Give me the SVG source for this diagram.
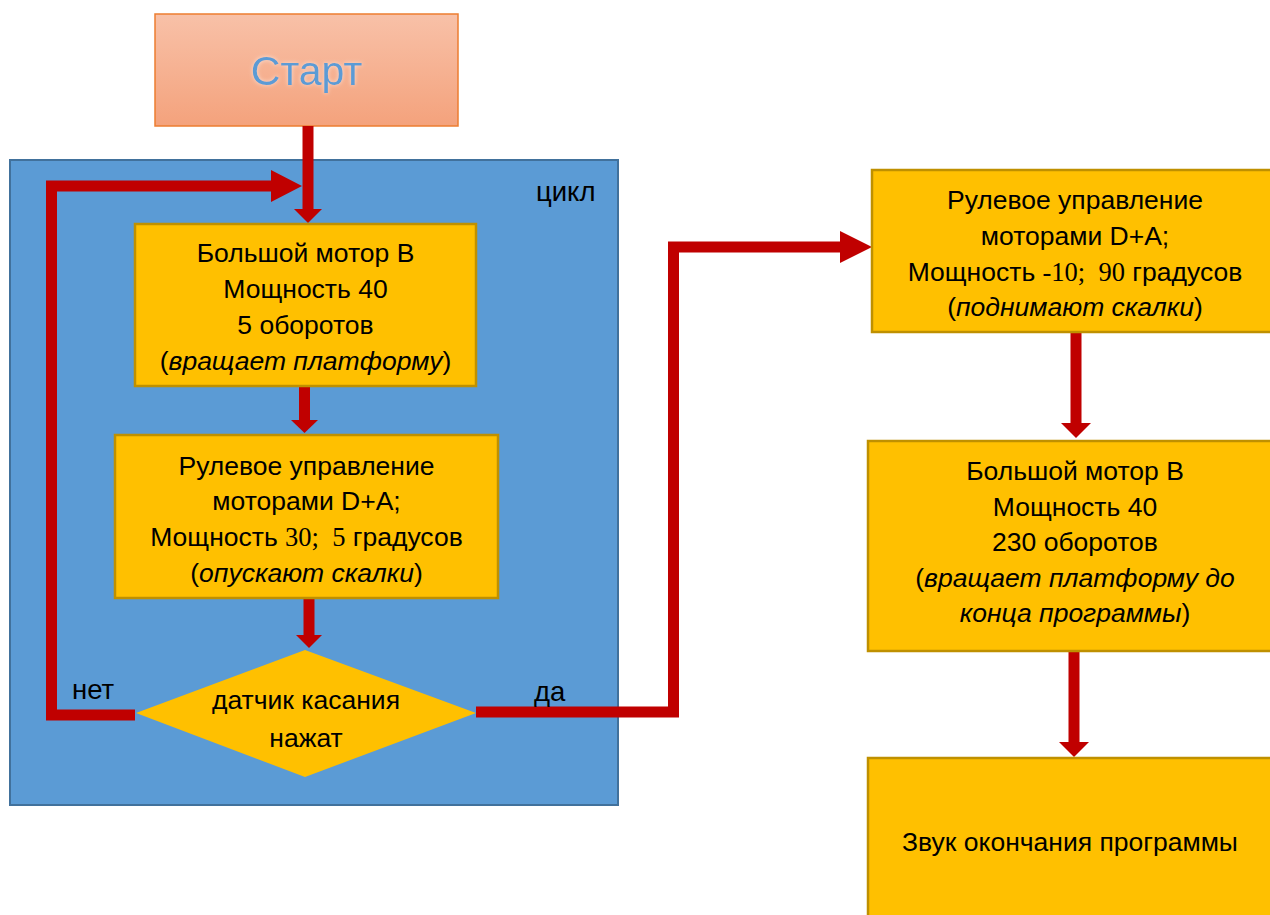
<svg xmlns="http://www.w3.org/2000/svg" width="1270" height="915" viewBox="0 0 1270 915">
<defs>
<linearGradient id="gStart" x1="0" y1="0" x2="0" y2="1">
<stop offset="0" stop-color="#f8c1a8"/>
<stop offset="1" stop-color="#f4a27c"/>
</linearGradient>
<filter id="glow" x="-20%" y="-40%" width="140%" height="180%">
<feGaussianBlur in="SourceAlpha" stdDeviation="2" result="b"/>
<feFlood flood-color="#ffffff" flood-opacity="0.6"/>
<feComposite in2="b" operator="in" result="g"/>
<feMerge><feMergeNode in="g"/><feMergeNode in="SourceGraphic"/></feMerge>
</filter>
</defs>
<style>
.box{fill:#ffc000;stroke:#bf9000;stroke-width:2.5}
.t{font-family:"Liberation Sans",Arial,sans-serif;font-size:26.5px;fill:#000;text-anchor:middle}
.lbl{font-family:"Liberation Sans",Arial,sans-serif;font-size:27.5px;fill:#000}
.s{font-family:"Liberation Serif","Times New Roman",serif}
.conn{fill:none;stroke:#c00000;stroke-width:11}
.head{fill:#c00000}
</style>

<g id="loop">
<rect x="10" y="160" width="608" height="645" fill="#5b9bd5" stroke="#41719c" stroke-width="2"/>
<text class="lbl" x="536" y="201">цикл</text>
</g>

<g id="start">
<rect x="155" y="14" width="303" height="112" fill="url(#gStart)" stroke="#ed7d31" stroke-width="1.5"/>
<text x="306.5" y="85" text-anchor="middle" font-family="Liberation Sans,Arial,sans-serif" font-size="41" fill="#5b9bd5" filter="url(#glow)">Старт</text>
</g>

<g id="connectors">
<line class="conn" x1="308" y1="126" x2="308" y2="210"/>
<polygon class="head" points="294,209 322,209 308,223"/>
<polyline class="conn" points="135,715 51.5,715 51.5,186 272,186"/>
<polygon class="head" points="271,170 271,202 302,186"/>
<line class="conn" x1="304.5" y1="386" x2="304.5" y2="421"/>
<polygon class="head" points="291,420 318,420 304.5,433"/>
<line class="conn" x1="309" y1="598" x2="309" y2="636"/>
<polygon class="head" points="296,635 322,635 309,648"/>
<polyline class="conn" points="476,712 673.5,712 673.5,247 841,247"/>
<polygon class="head" points="840,231 840,263 872,247"/>
<line class="conn" x1="1076" y1="333" x2="1076" y2="424"/>
<polygon class="head" points="1061,423 1091,423 1076,438"/>
<line class="conn" x1="1074" y1="651" x2="1074" y2="743"/>
<polygon class="head" points="1059,742 1089,742 1074,757"/>
</g>

<g id="box1">
<rect class="box" x="135" y="224" width="341" height="162"/>
<text class="t" x="305.5" y="262">Большой мотор В</text>
<text class="t" x="305.5" y="298">Мощность 40</text>
<text class="t" x="305.5" y="334">5 оборотов</text>
<text class="t" x="305.5" y="370">(<tspan font-style="italic">вращает платформу</tspan>)</text>
</g>

<g id="box2">
<rect class="box" x="115" y="435" width="383" height="163"/>
<text class="t" x="306.5" y="475">Рулевое управление</text>
<text class="t" x="306.5" y="510">моторами D+A;</text>
<text class="t" x="306.5" y="546" xml:space="preserve">Мощность <tspan class="s">30;  5</tspan> градусов</text>
<text class="t" x="306.5" y="582">(<tspan font-style="italic">опускают скалки</tspan>)</text>
</g>

<g id="decision">
<polygon points="305,650 476,713 305,777 136,713" fill="#ffc000"/>
<text class="t" x="306" y="709">датчик касания</text>
<text class="t" x="306" y="747">нажат</text>
</g>

<g id="labels">
<text class="lbl" x="72" y="699">нет</text>
<text class="lbl" x="534" y="701">да</text>
</g>

<g id="box3">
<rect class="box" x="872" y="170" width="410" height="162"/>
<text class="t" x="1075" y="209">Рулевое управление</text>
<text class="t" x="1075" y="245">моторами D+A;</text>
<text class="t" x="1075" y="281" xml:space="preserve">Мощность <tspan class="s">-10;  90</tspan> градусов</text>
<text class="t" x="1075" y="316">(<tspan font-style="italic">поднимают скалки</tspan>)</text>
</g>

<g id="box4">
<rect class="box" x="868" y="441" width="414" height="210"/>
<text class="t" x="1075" y="480">Большой мотор В</text>
<text class="t" x="1075" y="516">Мощность 40</text>
<text class="t" x="1075" y="551">230 оборотов</text>
<text class="t" x="1075" y="587">(<tspan font-style="italic">вращает платформу до</tspan></text>
<text class="t" x="1075" y="622"><tspan font-style="italic">конца программы</tspan>)</text>
</g>

<g id="box5">
<rect class="box" x="868" y="758" width="414" height="170"/>
<text class="t" x="1070" y="851">Звук окончания программы</text>
</g>
</svg>
